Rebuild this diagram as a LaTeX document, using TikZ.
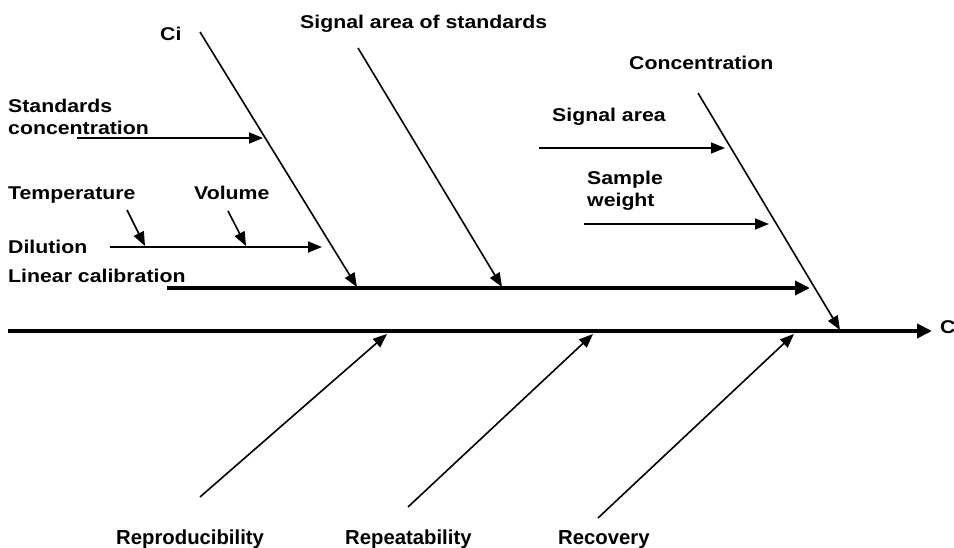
\documentclass[tikz,border=0pt]{standalone}
\usepackage{fontspec}
\setmainfont{Liberation Sans}
\newfontfamily\wideft[FakeStretch=1.15]{Liberation Sans}
\usepackage{tikz}
\usetikzlibrary{arrows.meta, positioning}
\tikzset{
  lbl/.style={inner sep=0pt, anchor=base west, align=left,
              font=\wideft\fontsize{18.5}{22.5}\selectfont\bfseries},
  lowlbl/.style={lbl, font=\fontsize{20.3}{22.5}\selectfont\bfseries},
  arrow/.style={-{Triangle[length=14pt, width=11pt]}, line width=1.6pt},
  spine/.style={-{Triangle[length=15pt, width=14pt]}, line width=4pt}
}
\begin{document}
\begin{tikzpicture}[x=1pt, y=-1pt]
  \useasboundingbox (0,0) rectangle (954,548);

  \node[lbl] (ci) at (160,41) {Ci};
  \node[lbl] (sigstd) at (300,29) {Signal area of standards};
  \node[lbl] (conc) at (629,70) {Concentration};
  \node[lbl, anchor=north west] (stdconc) at (8,98.5) {Standards\\concentration};
  \node[lbl] (temp) at (8,200) {Temperature};
  \node[lbl] (vol) at (194,200) {Volume};
  \node[lbl] (dil) at (8,254) {Dilution};
  \node[lbl] (lincal) at (8,283) {Linear calibration};
  \node[lbl] (sigarea) at (552,122) {Signal area};
  \node[lbl, anchor=north west] (sw) at (587,170.5) {Sample\\weight};
  \node[lbl] (c) at (940,334) {C};
  \node[lowlbl] (repro) at (116,544) {Reproducibility};
  \node[lowlbl] (repeat) at (345,544) {Repeatability};
  \node[lowlbl] (recov) at (558,544) {Recovery};

  \coordinate (sp0) at (8,331);
  \coordinate (sp1) at (932,331);
  \coordinate (lc0) at (167,288);
  \coordinate (lc1) at (810,288);
  \coordinate (ci0) at (200,32);
  \coordinate (ci1) at (357,287);
  \coordinate (ss0) at (358,48);
  \coordinate (ss1) at (502,287);
  \coordinate (co0) at (698,93);
  \coordinate (co1) at (840,330);
  \coordinate (sc0) at (77,138);
  \coordinate (sc1) at (263,138);
  \coordinate (di0) at (110,247);
  \coordinate (di1) at (322,247);
  \coordinate (te0) at (127,210);
  \coordinate (te1) at (145,246);
  \coordinate (vo0) at (228,211);
  \coordinate (vo1) at (246,246);
  \coordinate (sa0) at (539,148);
  \coordinate (sa1) at (725,148);
  \coordinate (sw0) at (584,224);
  \coordinate (sw1) at (769,224);
  \coordinate (rp0) at (200,497);
  \coordinate (rp1) at (387,334);
  \coordinate (rt0) at (408,507);
  \coordinate (rt1) at (593,334);
  \coordinate (rc0) at (598,518);
  \coordinate (rc1) at (794,334);

  \draw[spine] (sp0) -- (sp1);
  \draw[spine, line width=3.5pt] (lc0) -- (lc1);
  \draw[arrow] (ci0) -- (ci1);
  \draw[arrow] (ss0) -- (ss1);
  \draw[arrow] (co0) -- (co1);
  \draw[arrow] (sc0) -- (sc1);
  \draw[arrow] (di0) -- (di1);
  \draw[arrow] (te0) -- (te1);
  \draw[arrow] (vo0) -- (vo1);
  \draw[arrow] (sa0) -- (sa1);
  \draw[arrow] (sw0) -- (sw1);
  \draw[arrow] (rp0) -- (rp1);
  \draw[arrow] (rt0) -- (rt1);
  \draw[arrow] (rc0) -- (rc1);
\end{tikzpicture}
\end{document}
